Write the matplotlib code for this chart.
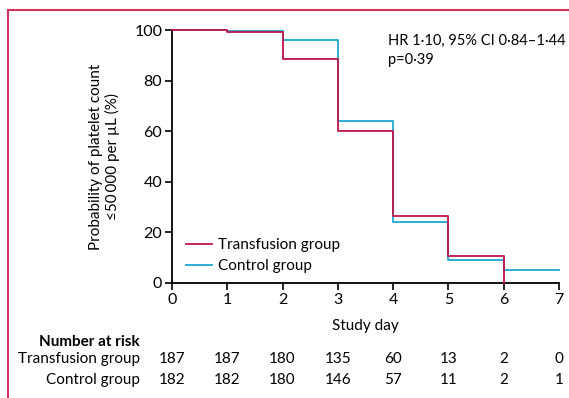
import matplotlib
matplotlib.use('Agg')
import matplotlib.pyplot as plt
from matplotlib.lines import Line2D

plt.rcParams['font.family'] = ['Lato', 'DejaVu Sans']

days = [0, 1, 2, 3, 4, 5, 6, 7]
transfusion_days = [0, 1, 2, 3, 4, 5, 6]
transfusion_prob = [100, 99.3, 88.5, 60, 26.5, 10.5, 0]
control_days = [0, 1, 2, 3, 4, 5, 6, 7]
control_prob = [100, 99.7, 96, 64, 24, 9.2, 5, 5]
transfusion_risk = [187, 187, 180, 135, 60, 13, 2, 0]
control_risk = [182, 182, 180, 146, 57, 11, 2, 1]

red = '#c0144b'
cyan = '#1ba8cf'

fig = plt.figure(figsize=(5.69, 3.98), dpi=100)
ax = fig.add_axes([172 / 569, 1 - 283 / 398, (559 - 172) / 569, (283 - 30) / 398])

ax.step(transfusion_days, transfusion_prob, where='post', color=red, lw=1.3,
        label='Transfusion group', clip_on=False, zorder=3)
ax.step(control_days, control_prob, where='post', color=cyan, lw=1.3,
        label='Control group', clip_on=False, zorder=2)

ax.set_xlim(0, 7)
ax.set_ylim(0, 100)
ax.set_xticks(days)
ax.set_yticks([0, 20, 40, 60, 80, 100])
ax.spines['top'].set_visible(False)
ax.spines['right'].set_visible(False)
for s in ['left', 'bottom']:
    ax.spines[s].set_linewidth(1.3)
ax.tick_params(length=5, width=1.2, labelsize=11.5, pad=2)
ax.set_xlabel('Study day', fontsize=11, labelpad=9)
ax.set_ylabel('Probability of platelet count\n\u226450\u2009000 per \u00b5L (%)',
              fontsize=11, labelpad=10, linespacing=1.2)

ax.legend(loc='lower left', bbox_to_anchor=(0.0, -0.015), frameon=False,
          fontsize=11, handlelength=1.7, handletextpad=0.4, labelspacing=0.45)

ax.text(0.559, 0.985, 'HR 1\u00b710, 95% CI 0\u00b784\u20131\u00b744\np=0\u00b739',
        transform=ax.transAxes, fontsize=10.5, va='top', ha='left', linespacing=1.5)

# number at risk table
fig.text(140 / 569, 1 - 342 / 398, 'Number at risk', fontsize=11,
         fontweight='bold', ha='right', va='center')
fig.text(140 / 569, 1 - 359 / 398, 'Transfusion group', fontsize=11,
         ha='right', va='center')
fig.text(140 / 569, 1 - 380 / 398, 'Control group', fontsize=11,
         ha='right', va='center')
for d, t, c in zip(days, transfusion_risk, control_risk):
    x = ax.transData.transform((d, 0))[0] / fig.bbox.width
    fig.text(x, 1 - 359 / 398, str(t), fontsize=11, ha='center', va='center')
    fig.text(x, 1 - 380 / 398, str(c), fontsize=11, ha='center', va='center')

# frame lines (left and top)
fig.add_artist(Line2D([8 / 569, 8 / 569], [0, 1 - 10 / 398], color='#d0355f',
                      lw=1.5, transform=fig.transFigure))
fig.add_artist(Line2D([8 / 569, 1], [1 - 10 / 398, 1 - 10 / 398], color='#d0355f',
                      lw=1.5, transform=fig.transFigure))

fig.savefig('out.png', dpi=100)
